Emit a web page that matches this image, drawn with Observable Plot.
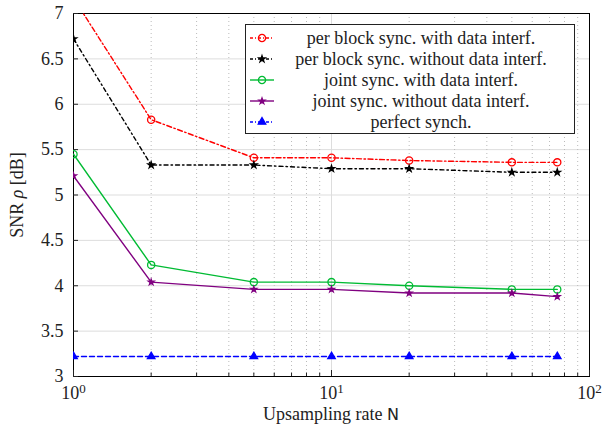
<!DOCTYPE html>
<html><head><meta charset="utf-8">
<script src="https://cdn.jsdelivr.net/npm/d3@7"></script>
<script src="https://cdn.jsdelivr.net/npm/@observablehq/plot@0.6"></script>
<style>body{margin:0;background:#fff}</style>
</head><body><div id="chart"></div>
<script>
const N = [1, 2, 5, 10, 20, 50, 75];
const seriesNames = [
  "per block sync. with data interf.",
  "per block sync. without data interf.",
  "joint sync. with data interf.",
  "joint sync. without data interf.",
  "perfect synch."
];
const perBlockWith    = [7.17, 5.83, 5.41, 5.41, 5.38, 5.36, 5.36];
const perBlockWithout = [6.72, 5.33, 5.33, 5.29, 5.29, 5.25, 5.25];
const jointWith       = [5.45, 4.23, 4.04, 4.04, 4.00, 3.96, 3.96];
const jointWithout    = [5.21, 4.04, 3.96, 3.96, 3.92, 3.92, 3.88];
const perfect         = [3.22, 3.22, 3.22, 3.22, 3.22, 3.22, 3.22];
const yTicks = [3, 3.5, 4, 4.5, 5, 5.5, 6, 6.5, 7];
const xMajor = [1, 10, 100];
const xMinor = [2,3,4,5,6,7,8,9,20,30,40,50,60,70,80,90];

const FONT = "Liberation Serif";
const values = [perBlockWith, perBlockWithout, jointWith, jointWithout, perfect];
const colors = ["#ff0000", "#000000", "#00bb33", "#800080", "#0000ff"];
const dashes = ["5,2.5,1.5,2.5", "4,3,1.5,3", null, null, "5,3"];
const symbols = ["circle", "star", "circle", "star", "triangle"];
const fills = ["none", "#000000", "none", "#800080", "#0000ff"];
const rs = [3.6, 2.0, 3.6, 1.8, 2.8];

const mk = (i) => N.map((n, j) => ({n, v: values[i][j], s: seriesNames[i]}));

const marks = [
  Plot.gridY(yTicks, {stroke: "#dddddd", strokeOpacity: 1}),
  Plot.gridX(xMinor, {stroke: "#bbbbbb", strokeOpacity: 1, strokeDasharray: "1,3"}),
  Plot.gridX([10], {stroke: "#dddddd", strokeOpacity: 1}),
  Plot.frame({stroke: "#000"}),
  Plot.axisY({ticks: yTicks, tickSize: 0, tickPadding: 10, label: null, tickFormat: d => String(d)}),
  Plot.axisY({ticks: yTicks, tickSize: -5, label: null, tickFormat: () => ""}),
  Plot.axisX({ticks: xMajor, tickSize: 0, tickPadding: 10, label: null, tickFormat: d => String(Math.round(Math.log10(d)))}),
  Plot.axisX({ticks: xMajor, tickSize: -6, label: null, tickFormat: () => ""}),
  Plot.axisX({ticks: xMinor, tickSize: -3.5, label: null, tickFormat: () => ""})
];
for (let i = 0; i < 5; i++) {
  marks.push(Plot.line(mk(i), {x: "n", y: "v", stroke: colors[i], strokeWidth: 1.4, strokeDasharray: dashes[i], clip: true}));
  marks.push(Plot.dot(mk(i), {x: "n", y: "v", stroke: colors[i], fill: fills[i], symbol: symbols[i], r: rs[i], strokeWidth: 1.3, clip: true}));
}

const chart = Plot.plot({
  width: 603, height: 430,
  marginLeft: 73, marginRight: 14, marginTop: 13, marginBottom: 54,
  x: {type: "log", domain: [1, 100]},
  y: {domain: [3, 7]},
  style: {fontSize: "18px", background: "#fff", color: "#222"},
  marks
});
document.getElementById("chart").appendChild(chart);

const svg = d3.select(chart);
svg.selectAll("g[aria-label='x-axis tick label'] text").each(function() {
  const t = d3.select(this);
  const e = t.text();
  if (!e) return;
  t.text("10");
  t.append("tspan").attr("dy", "-0.45em").attr("font-size", "13px").text(e);
});

svg.append("text").attr("x", 331).attr("y", 420).attr("text-anchor", "middle")
  .attr("font-size", 18).attr("fill", "#222")
  .call(t => { t.append("tspan").text("Upsampling rate "); t.append("tspan").attr("class", "sans").attr("font-size", 16).text("N"); });
svg.append("text").attr("transform", "translate(23,195) rotate(-90)").attr("text-anchor", "middle")
  .attr("font-size", 18).attr("fill", "#222")
  .call(t => { t.append("tspan").text("SNR "); t.append("tspan").attr("font-style", "italic").text("ρ"); t.append("tspan").text(" [dB]"); });

const lg = svg.append("g");
lg.append("rect").attr("x", 245.5).attr("y", 24.5).attr("width", 329).attr("height", 109)
  .attr("fill", "#fff").attr("stroke", "#222").attr("stroke-width", 1);
const sym = {circle: d3.symbolCircle, star: d3.symbolStar, triangle: d3.symbolTriangle};
seriesNames.forEach((name, i) => {
  const cy = 38 + i * 21;
  lg.append("line").attr("x1", 250).attr("x2", 274).attr("y1", cy).attr("y2", cy)
    .attr("stroke", colors[i]).attr("stroke-width", 1.4).attr("stroke-dasharray", dashes[i] ? "3,2,1,2" : null);
  const area = Math.PI * rs[i] * rs[i];
  lg.append("path").attr("transform", `translate(262,${cy})`)
    .attr("d", d3.symbol(sym[symbols[i]], area)())
    .attr("fill", fills[i]).attr("stroke", colors[i]).attr("stroke-width", 1.3);
  lg.append("text").attr("x", 421).attr("y", cy + 5.5).attr("text-anchor", "middle")
    .attr("font-size", 18).attr("fill", "#222").text(name);
});

// apply serif font directly to every text element
svg.attr("font-family", FONT);
svg.selectAll("text").attr("font-family", FONT);
svg.selectAll("tspan.sans").attr("font-family", "DejaVu Sans");
</script></body></html>
